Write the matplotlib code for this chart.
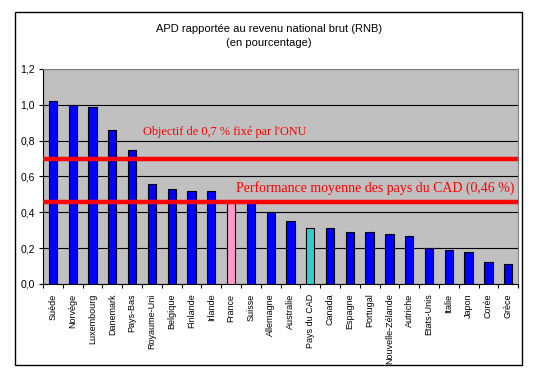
import matplotlib.pyplot as plt
import matplotlib.patches as patches
import numpy as np

pays = ["Suède", "Norvège", "Luxembourg", "Danemark", "Pays-Bas", "Royaume-Uni",
        "Belgique", "Finlande", "Irlande", "France", "Suisse", "Allemagne",
        "Australie", "Pays du CAD", "Canada", "Espagne", "Portugal",
        "Nouvelle-Zélande", "Autriche", "Etats-Unis", "Italie", "Japon",
        "Corée", "Grèce"]
apd = [1.02, 1.00, 0.99, 0.86, 0.75, 0.56, 0.53, 0.52, 0.52, 0.46, 0.46, 0.40,
       0.35, 0.31, 0.31, 0.29, 0.29, 0.28, 0.27, 0.20, 0.19, 0.18, 0.12, 0.11]
objectif_onu = 0.7
moyenne_cad = 0.46

couleurs = []
for p in pays:
    if p == "France":
        couleurs.append("#FF99CC")
    elif p == "Pays du CAD":
        couleurs.append("#33CCCC")
    else:
        couleurs.append("#0000FF")

fig = plt.figure(figsize=(5.38, 3.75), dpi=100)
ax = fig.add_axes([0.080, 0.243, 0.883, 0.573])
ax.set_facecolor("#C0C0C0")

x = np.arange(len(pays))
ax.bar(x, apd, width=0.42, color=couleurs, edgecolor="black", linewidth=0.8, zorder=3)

ax.axhline(objectif_onu, color="#FF0000", lw=3.2, zorder=4)
ax.axhline(moyenne_cad, color="#FF0000", lw=3.2, zorder=4)
ax.text(8.7, 0.85, "Objectif de 0,7 % fixé par l'ONU", color="#FF0000",
        family="Liberation Serif", fontsize=8.8, ha="center", va="center", zorder=5)
ax.text(16.3, 0.536, "Performance moyenne des pays du CAD (0,46 %)", color="#FF0000",
        family="Liberation Serif", fontsize=10, ha="center", va="center", zorder=5)

ax.set_xlim(-0.5, len(pays) - 0.5)
ax.set_ylim(0, 1.2)
yt = np.arange(0, 1.21, 0.2)
ax.set_yticks(yt)
ax.set_yticklabels([f"{v:.1f}".replace(".", ",") for v in yt],
                   family="Liberation Sans", fontsize=7.5)
ax.yaxis.grid(True, color="black", lw=0.8, zorder=1)
ax.tick_params(axis="y", length=3, width=0.8, pad=3)

ax.set_xticks(x)
ax.set_xticklabels(pays, rotation=90, family="Liberation Sans", fontsize=6.5)
ax.set_xticks(np.arange(-0.5, len(pays)), minor=True)
ax.tick_params(axis="x", which="major", length=0, pad=7)
ax.tick_params(axis="x", which="minor", length=3, width=0.8)

ax.spines["top"].set_color("#808080")
ax.spines["right"].set_color("#808080")
ax.spines["left"].set_linewidth(0.8)
ax.spines["bottom"].set_linewidth(0.8)

fig.text(0.5, 0.922, "APD rapportée au revenu national brut (RNB)", ha="center",
         va="center", family="Liberation Sans", fontsize=8)
fig.text(0.5, 0.884, "(en pourcentage)", ha="center", va="center",
         family="Liberation Sans", fontsize=8)

fig.patches.append(patches.Rectangle((0.028, 0.027), 0.942, 0.941, fill=False,
                                     edgecolor="black", lw=1, transform=fig.transFigure))

fig.savefig("out.png", dpi=100)
